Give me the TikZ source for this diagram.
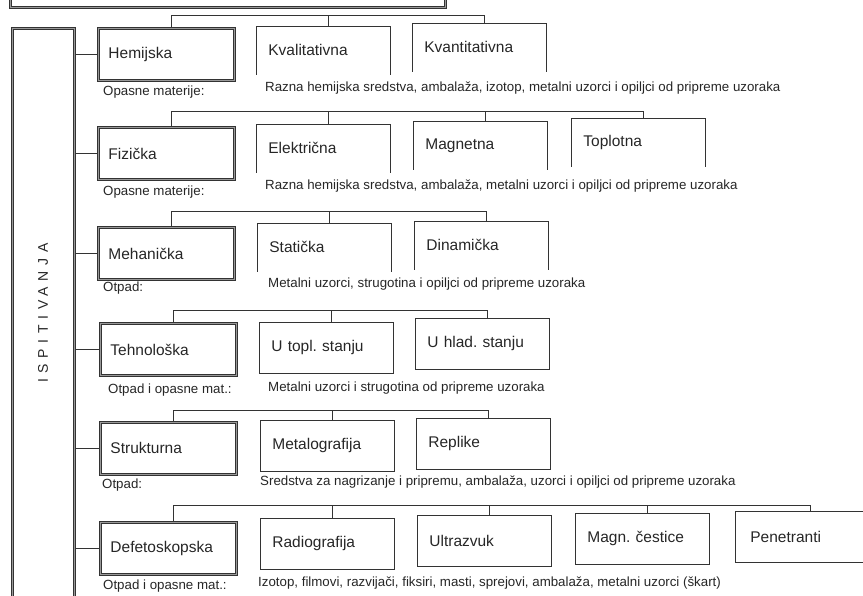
\documentclass[tikz,border=0pt]{standalone}
\usepackage{fontspec}
\setmainfont{Liberation Sans}
\usepackage{tikz}
\frenchspacing

\begin{document}
\begin{tikzpicture}[x=1pt,y=-1pt,
  conn/.style = {draw=black!80, line width=0.8pt},
  frame/.style = {draw=black!80, line width=0.9pt, double=black!40, double distance=1.4pt},
  catbox/.style = {frame, anchor=north west, minimum width=136, minimum height=52, text width=116, inner xsep=10pt, align=left, text=black!85, font=\fontsize{15.5}{18}\selectfont},
  subbox/.style = {conn, anchor=north west, minimum width=134, minimum height=51, text width=110, inner xsep=12pt, align=left, text=black!85, font=\fontsize{15.5}{18}\selectfont},
  openbox/.style = {subbox, draw=none, minimum height=48},
  note/.style = {anchor=west, inner sep=0pt, text=black!85, font=\fontsize{13.3}{15}\selectfont}]
\useasboundingbox (0,0) rectangle (863,596);
\clip (0,0) rectangle (863,596);

\node[frame, anchor=north west, minimum width=435, minimum height=40] (top) at (10,-33) {};
\node[frame, anchor=north west, minimum width=62, minimum height=600] (isp) at (12,28) {};
\node[rotate=90, text=black!85, font=\fontsize{14}{16}\selectfont\addfontfeature{LetterSpace=40}] (isptext) at (43,313) {ISPITIVANJA};

\node[catbox] (hem) at (98,28) {Hemijska};
\node[catbox] (fiz) at (98,127) {Fizička};
\node[catbox] (meh) at (98,227) {Mehanička};
\node[catbox] (teh) at (100,323) {Tehnološka};
\node[catbox] (str) at (100,422) {Strukturna};
\node[catbox] (def) at (100,522) {Defetoskopska};

\node[openbox] (kval) at (256,26) {Kvalitativna};
\node[openbox] (kvan) at (412,23) {Kvantitativna};
\node[openbox] (elek) at (256,124) {Električna};
\node[openbox] (magn) at (413,121) {Magnetna};
\node[openbox] (topl) at (571,118) {Toplotna};
\node[openbox] (stat) at (257,223) {Statička};
\node[openbox] (dina) at (414,221) {Dinamička};
\node[subbox] (utop) at (259,322) {U topl. stanju};
\node[subbox] (uhla) at (415,318) {U hlad. stanju};
\node[subbox] (metg) at (260,420) {Metalografija};
\node[subbox] (repl) at (416,418) {Replike};
\node[subbox] (radi) at (260,518) {Radiografija};
\node[subbox] (ultr) at (417,515) {Ultrazvuk};
\node[subbox] (magc) at (575,513) {Magn. čestice};
\node[subbox, minimum width=140] (pene) at (735,511) {Penetranti};

\foreach \n in {kval,kvan,elek,magn,topl,stat,dina}
    \draw[conn] (\n.south west) -- (\n.north west) -- (\n.north east) -- (\n.south east);

\foreach \r/\b/\first/\last/\nodes in {1/15/hem/kvan/{hem,kval,kvan}, 2/111/fiz/topl/{fiz,elek,magn,topl}, 3/211/meh/dina/{meh,stat,dina}, 4/310/teh/uhla/{teh,utop,uhla}, 5/410/str/repl/{str,metg,repl}, 6/505/def/pene/{def,radi,ultr,magc,pene}} {
    \coordinate (br\r) at (0,\b);
    \draw[conn] ([xshift=5]\first.north |- br\r) -- ([xshift=5]\last.north |- br\r);
    \foreach \n in \nodes
        \draw[conn] ([xshift=5]\n.north) -- ([xshift=5]\n.north |- br\r);
}

\foreach \c in {hem,fiz,meh,teh,str,def}
    \draw[conn] (\c.west -| isp.east) -- (\c.west);

\node[note] (lab1) at (103,92) {Opasne materije:};
\node[note] (txt1) at (265,88) {Razna hemijska sredstva, ambalaža, izotop, metalni uzorci i opiljci od pripreme uzoraka};
\node[note] (lab2) at (103,192) {Opasne materije:};
\node[note] (txt2) at (265,186) {Razna hemijska sredstva, ambalaža, metalni uzorci i opiljci od pripreme uzoraka};
\node[note] (lab3) at (103,288) {Otpad:};
\node[note] (txt3) at (268,284) {Metalni uzorci, strugotina i opiljci od pripreme uzoraka};
\node[note] (lab4) at (108,390) {Otpad i opasne mat.:};
\node[note] (txt4) at (268,388) {Metalni uzorci i strugotina od pripreme uzoraka};
\node[note] (lab5) at (102,485) {Otpad:};
\node[note] (txt5) at (260,482) {Sredstva za nagrizanje i pripremu, ambalaža, uzorci i opiljci od pripreme uzoraka};
\node[note] (lab6) at (103,586) {Otpad i opasne mat.:};
\node[note] (txt6) at (258,583) {Izotop, filmovi, razvijači, fiksiri, masti, sprejovi, ambalaža, metalni uzorci (škart)};
\end{tikzpicture}
\end{document}
